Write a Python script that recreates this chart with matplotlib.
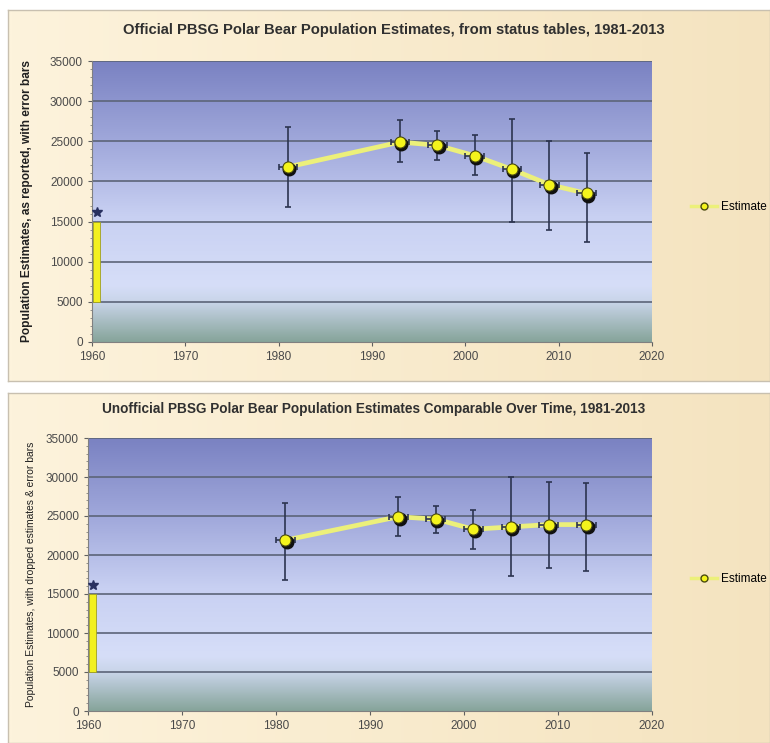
import numpy as np
import matplotlib
matplotlib.use("Agg")
import matplotlib.pyplot as plt
import matplotlib.transforms as mtransforms
from matplotlib.colors import LinearSegmentedColormap
from matplotlib.lines import Line2D

plt.rcParams['font.family'] = ['Liberation Sans Narrow', 'Liberation Sans', 'DejaVu Sans']

# data
years = [1981, 1993, 1997, 2001, 2005, 2009, 2013]

official_est = [21800, 24900, 24500, 23200, 21500, 19600, 18500]
official_lo = [16800, 22400, 22700, 20800, 15000, 14000, 12400]
official_hi = [26800, 27600, 26300, 25800, 27800, 25000, 23500]

unofficial_est = [21900, 24900, 24600, 23300, 23600, 23900, 23900]
unofficial_lo = [16800, 22500, 22800, 20800, 17300, 18300, 18000]
unofficial_hi = [26700, 27400, 26300, 25800, 30000, 29300, 29200]

year_err = 1.0
early_year = 1960.5
early_range = (5000, 15000)
early_star = 16200

titles = ["Official PBSG Polar Bear Population Estimates, from status tables, 1981-2013",
          "Unofficial PBSG Polar Bear Population Estimates Comparable Over Time, 1981-2013"]
ylabels = ["Population Estimates, as reported, with error bars",
           "Population Estimates, with dropped estimates & error bars"]

W, H = 770, 743
fig = plt.figure(figsize=(W / 100, H / 100), dpi=100)
fig.patch.set_facecolor("white")

panel_cmap = LinearSegmentedColormap.from_list(
    "panel", ["#fdf3dc", "#f6e6c4", "#ecd9b0"])
plot_cmap = LinearSegmentedColormap.from_list(
    "plotbg", [(0.0, "#7a82c2"), (0.3, "#a2aadc"), (0.55, "#c8d0f2"),
               (0.8, "#d6def8"), (0.86, "#c8d4e8"), (1.0, "#86a49a")])


def px_box(x0, y0, x1, y1):
    return [x0 / W, 1 - y1 / H, (x1 - x0) / W, (y1 - y0) / H]


panels = [
    dict(frame=(8, 10, 770, 381), ax=(92, 61, 652, 342), title=(394, 30),
         title_size=10.6, leg_y=207, yl_bold=True, yl_size=8.6, yl_pad=12),
    dict(frame=(8, 393, 770, 743), ax=(88, 438, 652, 711), title=(374, 409),
         title_size=9.8, leg_y=579, yl_bold=False, yl_size=7.4, yl_pad=7),
]
series = [(official_est, official_lo, official_hi),
          (unofficial_est, unofficial_lo, unofficial_hi)]

for i, p in enumerate(panels):
    # panel background (beige gradient)
    bg = fig.add_axes(px_box(*p["frame"]), zorder=0)
    bg.imshow(np.linspace(0, 1, 256).reshape(1, -1).repeat(2, 0) * 0.6,
              cmap=panel_cmap, aspect="auto", extent=[0, 1, 0, 1], vmin=0, vmax=1)
    bg.set_xlim(0, 1)
    bg.set_ylim(0, 1)
    bg.set_xticks([])
    bg.set_yticks([])
    for s in bg.spines.values():
        s.set_color("#c8c0b0")
        s.set_linewidth(1.0)

    ax = fig.add_axes(px_box(*p["ax"]), zorder=1)
    ax.imshow(np.linspace(0, 1, 256).reshape(-1, 1), cmap=plot_cmap,
              aspect="auto", extent=[1960, 2020, 0, 35000], zorder=0)
    ax.set_xlim(1960, 2020)
    ax.set_ylim(0, 35000)
    for yv in range(5000, 35001, 5000):
        ax.axhline(yv, color="#5c6478", lw=1.2, zorder=1)

    est, lo, hi = series[i]
    est = np.array(est)
    yerr = [est - np.array(lo), np.array(hi) - est]

    # early estimate range bar
    ax.bar([early_year], [early_range[1] - early_range[0]], bottom=early_range[0],
           width=0.7, color="#f2f020", edgecolor="#a0a020", lw=0.6, zorder=3)
    ax.plot([early_year], [early_star], marker="*", color="#283060",
            markersize=7, zorder=4)

    ax.plot(years, est, color="#ecf07a", lw=3.4, zorder=3, solid_capstyle="round")
    ax.errorbar(years, est, yerr=yerr, xerr=year_err, fmt="none",
                ecolor="#2c3450", elinewidth=1.2, capsize=2.5, capthick=1.2,
                zorder=4)
    shadow = mtransforms.offset_copy(ax.transData, fig=fig, x=1.0, y=-1.5,
                                     units="points")
    ax.plot(years, est, "o", color="#101010", markersize=9, transform=shadow,
            zorder=5)
    ax.plot(years, est, "o", markerfacecolor="#f4f41c", markeredgecolor="#4a4a10",
            markeredgewidth=0.8, markersize=8, zorder=6)

    ax.set_xticks(range(1960, 2021, 10))
    ax.set_yticks(range(0, 35001, 5000))
    ax.set_yticks(range(0, 35001, 1000), minor=True)
    ax.tick_params(axis="both", labelsize=8.5, colors="#606060", length=3,
                   labelcolor="#4a4a4a")
    ax.tick_params(axis="y", which="minor", length=1.5, colors="#808080")
    for side in ["top", "right"]:
        ax.spines[side].set_visible(False)
    ax.spines["left"].set_color("#808080")
    ax.spines["bottom"].set_color("#808080")

    ax.set_ylabel(ylabels[i], fontsize=p["yl_size"],
                  fontweight="bold" if p["yl_bold"] else "normal", color="#202020",
                  labelpad=p["yl_pad"])

    fig.text(p["title"][0] / W, 1 - p["title"][1] / H,
             titles[i], ha="center", va="center", fontsize=p["title_size"],
             fontweight="bold", color="#303030", zorder=3)

    handle = Line2D([], [], color="#ecf07a", lw=2.5, marker="o",
                    markerfacecolor="#f4f41c", markeredgecolor="#4a4a10",
                    markersize=5)
    fig.legend([handle], ["Estimate"], loc="center left",
               bbox_to_anchor=(680 / W, 1 - p["leg_y"] / H), frameon=False,
               fontsize=8.5, handlelength=2.2, handletextpad=0.4)

fig.savefig("out.png", dpi=100)
